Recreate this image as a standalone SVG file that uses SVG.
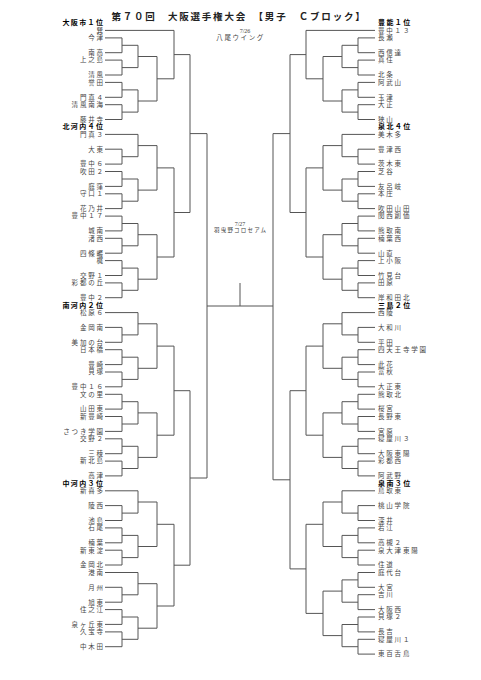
<svg xmlns="http://www.w3.org/2000/svg" width="481" height="680" viewBox="0 0 481 680">
<style>
text{font-family:"Noto Sans CJK JP","Noto Sans CJK SC",sans-serif}
.l{font-size:6.5px;letter-spacing:1.8px;fill:#444;text-anchor:end}
.r{font-size:6.5px;letter-spacing:1.8px;fill:#444;text-anchor:start}
.bl{font-size:7px;letter-spacing:1.4px;font-weight:bold;fill:#000;text-anchor:end}
.br{font-size:7px;letter-spacing:1.4px;font-weight:bold;fill:#000;text-anchor:start}
.t{font-size:9.5px;letter-spacing:1.8px;font-weight:bold;fill:#222;text-anchor:middle}
.c{fill:#444;text-anchor:middle}
.ln{fill:none;stroke:#555;stroke-width:1}
</style>
<rect width="481" height="680" fill="#fff"/>
<g id="title"><text class="t" x="239" y="19.5">第７０回　大阪選手権大会　【男子　Ｃブロック】</text></g>
<g id="venue1"><text class="c" x="245" y="33" style="font-size:6px;font-family:'Liberation Serif',serif">7/26</text><text class="c" x="240.6" y="40" style="font-size:6.5px;letter-spacing:1.6px">八尾ウイング</text></g>
<g id="venue2"><text class="c" x="240" y="225.5" style="font-size:6px;font-family:'Liberation Serif',serif">7/27</text><text class="c" x="240.6" y="232" style="font-size:5.5px;letter-spacing:1.2px">羽曳野コロセアム</text></g>

<g id="connectors" class="ln">
<path d="M105 30.4H174M105 134.4H138M105 312.6H138M105 490.8H138M105 572.5H138
M105 37.9H122V52.7H105M122 45.3H138
M105 60.1H122V75H105M122 67.6H138
M105 82.4H122V97.3H105M122 89.9H138
M105 104.7H122V119.5H105M122 112.1H138
M105 149.2H122V164.1H105M122 156.7H138
M105 171.5H122V186.4H105M122 179H138
M105 193.8H122V208.6H105M122 201.2H138
M105 216.1H122V230.9H105M122 223.5H138
M105 238.3H122V253.2H105M122 245.8H138
M105 260.6H122V275.5H105M122 268.1H138
M105 282.9H122V297.7H105M122 290.3H138
M105 327.4H122V342.3H105M122 334.9H138
M105 349.7H122V364.6H105M122 357.2H138
M105 372H122V386.8H105M122 379.4H138
M105 394.3H122V409.1H105M122 401.7H138
M105 416.5H122V431.4H105M122 424H138
M105 438.8H122V453.7H105M122 446.3H138
M105 461.1H122V475.9H105M122 468.5H138
M105 505.6H122V520.5H105M122 513.1H138
M105 527.9H122V542.8H105M122 535.4H138
M105 550.2H122V565H105M122 557.6H138
M105 587.3H122V602.2H105M122 594.8H138
M105 609.6H122V624.4H105M122 617H138
M105 631.9H122V646.7H105M122 639.3H138"/>
<path d="M138 45.3V67.6M138 56.5H157
M138 89.9V112.1M138 101H157
M138 134.4V156.7M138 145.6H157
M138 179V201.2M138 190.1H157
M138 223.5V245.8M138 234.7H157
M138 268.1V290.3M138 279.2H157
M138 312.6V334.9M138 323.8H157
M138 357.2V379.4M138 368.3H157
M138 401.7V424M138 412.9H157
M138 446.3V468.5M138 457.4H157
M138 490.8V513.1M138 502H157
M138 535.4V557.6M138 546.5H157
M138 572.5V594.8M138 583.7H157
M138 617V639.3M138 628.2H157"/>
<path d="M157 56.5V101M157 78.8H174
M157 145.6V190.1M157 167.9H174
M157 234.7V279.2M157 257H174
M157 323.8V368.3M157 346.1H174
M157 412.9V457.4M157 435.2H174
M157 502V546.5M157 524.3H174
M157 583.7V628.2M157 606H174"/>
<path d="M174 30.4V78.8M174 54.6H190
M174 167.9V257M174 212.5H190
M174 346.1V435.2M174 390.7H190
M174 524.3V606M174 565.2H190
M190 54.6V212.5M190 133.6H207
M190 390.7V565.2M190 478H207
M207 133.6V478M207 306H273M273 133.6V479.8M240 283V306"/>
<path d="M375 30.4H306M375 134.4H342M375 312.6H342M375 490.8H342
M375 37.9H358V52.7H375M358 45.3H342
M375 60.1H358V75H375M358 67.6H342
M375 82.4H358V97.3H375M358 89.9H342
M375 104.7H358V119.5H375M358 112.1H342
M375 149.2H358V164.1H375M358 156.7H342
M375 171.5H358V186.4H375M358 179H342
M375 193.8H358V208.6H375M358 201.2H342
M375 216.1H358V230.9H375M358 223.5H342
M375 238.3H358V253.2H375M358 245.8H342
M375 260.6H358V275.5H375M358 268.1H342
M375 282.9H358V297.7H375M358 290.3H342
M375 327.4H358V342.3H375M358 334.9H342
M375 349.7H358V364.6H375M358 357.2H342
M375 372H358V386.8H375M358 379.4H342
M375 394.3H358V409.1H375M358 401.7H342
M375 416.5H358V431.4H375M358 424H342
M375 438.8H358V453.7H375M358 446.3H342
M375 461.1H358V475.9H375M358 468.5H342
M375 505.6H358V520.5H375M358 513.1H342
M375 527.9H358V542.8H375M358 535.4H342
M375 550.2H358V565H375M358 557.6H342
M375 572.5H358V587.3H375M358 579.9H342
M375 594.7H358V609.6H375M358 602.2H342
M375 617H358V631.9H375M358 624.5H342
M375 639.3H358V654.1H375M358 646.7H342"/>
<path d="M342 45.3V67.6M342 56.5H323
M342 89.9V112.1M342 101H323
M342 134.4V156.7M342 145.6H323
M342 179V201.2M342 190.1H323
M342 223.5V245.8M342 234.7H323
M342 268.1V290.3M342 279.2H323
M342 312.6V334.9M342 323.8H323
M342 357.2V379.4M342 368.3H323
M342 401.7V424M342 412.9H323
M342 446.3V468.5M342 457.4H323
M342 490.8V513.1M342 502H323
M342 535.4V557.6M342 546.5H323
M342 579.9V602.2M342 591.1H323
M342 624.5V646.7M342 635.6H323"/>
<path d="M323 56.5V101M323 78.8H306
M323 145.6V190.1M323 167.9H306
M323 234.7V279.2M323 257H306
M323 323.8V368.3M323 346.1H306
M323 412.9V457.4M323 435.2H306
M323 502V546.5M323 524.3H306
M323 591.1V635.6M323 613.4H306"/>
<path d="M306 30.4V78.8M306 54.6H290
M306 167.9V257M306 212.5H290
M306 346.1V435.2M306 390.7H290
M306 524.3V613.4M306 568.9H290
M290 54.6V212.5M290 133.6H273
M290 390.7V568.9M290 479.8H273"/>
</g>

<g id="left">
<g id="seed-osakashi"><text class="bl" x="104.4" y="25.3">大阪市１位</text></g>
<g id="L01"><text class="l" x="104.8" y="32.7">巽</text></g>
<g id="L02"><text class="l" x="104.8" y="40.2">今津</text></g>
<g id="L03"><text class="l" x="104.8" y="55">南高</text></g>
<g id="L04"><text class="l" x="104.8" y="62.4">上之島</text></g>
<g id="L05"><text class="l" x="104.8" y="77.3">清風</text></g>
<g id="L06"><text class="l" x="104.8" y="84.7">誉田</text></g>
<g id="L07"><text class="l" x="104.8" y="99.6">門真４</text></g>
<g id="L08"><text class="l" x="104.8" y="107">清風南海</text></g>
<g id="L09"><text class="l" x="104.8" y="121.8">藤井寺</text></g>
<g id="seed-kitakawachi"><text class="bl" x="104.4" y="129.3">北河内４位</text></g>
<g id="L10"><text class="l" x="104.8" y="136.7">門真３</text></g>
<g id="L11"><text class="l" x="104.8" y="151.5">大東</text></g>
<g id="L12"><text class="l" x="104.8" y="166.4">豊中６</text></g>
<g id="L13"><text class="l" x="104.8" y="173.8">吹田２</text></g>
<g id="L14"><text class="l" x="104.8" y="188.7">庭窪</text></g>
<g id="L15"><text class="l" x="104.8" y="196.1">守口１</text></g>
<g id="L16"><text class="l" x="104.8" y="210.9">花乃井</text></g>
<g id="L17"><text class="l" x="104.8" y="218.4">豊中１７</text></g>
<g id="L18"><text class="l" x="104.8" y="233.2">城南</text></g>
<g id="L19"><text class="l" x="104.8" y="240.6">渚西</text></g>
<g id="L20"><text class="l" x="104.8" y="255.5">四條畷</text></g>
<g id="L21"><text class="l" x="104.8" y="262.9">梶</text></g>
<g id="L22"><text class="l" x="104.8" y="277.8">交野１</text></g>
<g id="L23"><text class="l" x="104.8" y="285.2">彩都の丘</text></g>
<g id="L24"><text class="l" x="104.8" y="300">豊中２</text></g>
<g id="seed-minamikawachi"><text class="bl" x="104.4" y="307.5">南河内２位</text></g>
<g id="L25"><text class="l" x="104.8" y="314.9">松原６</text></g>
<g id="L26"><text class="l" x="104.8" y="329.7">金岡南</text></g>
<g id="L27"><text class="l" x="104.8" y="344.6">美加の台</text></g>
<g id="L28"><text class="l" x="104.8" y="352">日本橋</text></g>
<g id="L29"><text class="l" x="104.8" y="366.9">豊崎</text></g>
<g id="L30"><text class="l" x="104.8" y="374.3">貝塚</text></g>
<g id="L31"><text class="l" x="104.8" y="389.1">豊中１６</text></g>
<g id="L32"><text class="l" x="104.8" y="396.6">文の里</text></g>
<g id="L33"><text class="l" x="104.8" y="411.4">山田東</text></g>
<g id="L34"><text class="l" x="104.8" y="418.8">新豊崎</text></g>
<g id="L35"><text class="l" x="104.8" y="433.7">さつき学園</text></g>
<g id="L36"><text class="l" x="104.8" y="441.1">交野２</text></g>
<g id="L37"><text class="l" x="104.8" y="456">三稜</text></g>
<g id="L38"><text class="l" x="104.8" y="463.4">新北島</text></g>
<g id="L39"><text class="l" x="104.8" y="478.2">高津</text></g>
<g id="seed-nakakawachi"><text class="bl" x="104.4" y="485.7">中河内３位</text></g>
<g id="L40"><text class="l" x="104.8" y="493.1">新喜多</text></g>
<g id="L41"><text class="l" x="104.8" y="507.9">陵西</text></g>
<g id="L42"><text class="l" x="104.8" y="522.8">池島</text></g>
<g id="L43"><text class="l" x="104.8" y="530.2">石尾</text></g>
<g id="L44"><text class="l" x="104.8" y="545.1">楠葉</text></g>
<g id="L45"><text class="l" x="104.8" y="552.5">新東淀</text></g>
<g id="L46"><text class="l" x="104.8" y="567.3">金岡北</text></g>
<g id="L47"><text class="l" x="104.8" y="574.8">港南</text></g>
<g id="L48"><text class="l" x="104.8" y="589.6">月州</text></g>
<g id="L49"><text class="l" x="104.8" y="604.5">旭東</text></g>
<g id="L50"><text class="l" x="104.8" y="611.9">住之江</text></g>
<g id="L51"><text class="l" x="104.8" y="626.7">泉ヶ丘東</text></g>
<g id="L52"><text class="l" x="104.8" y="634.2">久宝寺</text></g>
<g id="L53"><text class="l" x="104.8" y="649">中木田</text></g>
</g>

<g id="right">
<g id="seed-toyono"><text class="br" x="378" y="25.3">豊能１位</text></g>
<g id="R01"><text class="r" x="378" y="32.7">豊中１３</text></g>
<g id="R02"><text class="r" x="378" y="40.2">長瀬</text></g>
<g id="R03"><text class="r" x="378" y="55">西信達</text></g>
<g id="R04"><text class="r" x="378" y="62.4">真住</text></g>
<g id="R05"><text class="r" x="378" y="77.3">北条</text></g>
<g id="R06"><text class="r" x="378" y="84.7">阿武山</text></g>
<g id="R07"><text class="r" x="378" y="99.6">玉津</text></g>
<g id="R08"><text class="r" x="378" y="107">大正</text></g>
<g id="R09"><text class="r" x="378" y="121.8">狭山</text></g>
<g id="seed-senboku"><text class="br" x="378" y="129.3">泉北４位</text></g>
<g id="R10"><text class="r" x="378" y="136.7">美木多</text></g>
<g id="R11"><text class="r" x="378" y="151.5">豊津西</text></g>
<g id="R12"><text class="r" x="378" y="166.4">茨木東</text></g>
<g id="R13"><text class="r" x="378" y="173.8">芝谷</text></g>
<g id="R14"><text class="r" x="378" y="188.7">友呂岐</text></g>
<g id="R15"><text class="r" x="378" y="196.1">本庄</text></g>
<g id="R16"><text class="r" x="378" y="210.9">吹田山田</text></g>
<g id="R17"><text class="r" x="378" y="218.4">関西創価</text></g>
<g id="R18"><text class="r" x="378" y="233.2">熊取南</text></g>
<g id="R19"><text class="r" x="378" y="240.6">楠葉西</text></g>
<g id="R20"><text class="r" x="378" y="255.5">山直</text></g>
<g id="R21"><text class="r" x="378" y="262.9">上小阪</text></g>
<g id="R22"><text class="r" x="378" y="277.8">竹見台</text></g>
<g id="R23"><text class="r" x="378" y="285.2">田原</text></g>
<g id="R24"><text class="r" x="378" y="300">岸和田北</text></g>
<g id="seed-mishima"><text class="br" x="378" y="307.5">三島２位</text></g>
<g id="R25"><text class="r" x="378" y="314.9">西陵</text></g>
<g id="R26"><text class="r" x="378" y="329.7">大和川</text></g>
<g id="R27"><text class="r" x="378" y="344.6">平田</text></g>
<g id="R28"><text class="r" x="378" y="352">四天王寺学園</text></g>
<g id="R29"><text class="r" x="378" y="366.9">此花</text></g>
<g id="R30"><text class="r" x="378" y="374.3">富秋</text></g>
<g id="R31"><text class="r" x="378" y="389.1">大正東</text></g>
<g id="R32"><text class="r" x="378" y="396.6">熊取北</text></g>
<g id="R33"><text class="r" x="378" y="411.4">桜宮</text></g>
<g id="R34"><text class="r" x="378" y="418.8">長野東</text></g>
<g id="R35"><text class="r" x="378" y="433.7">宮原</text></g>
<g id="R36"><text class="r" x="378" y="441.1">寝屋川３</text></g>
<g id="R37"><text class="r" x="378" y="456">大阪東陽</text></g>
<g id="R38"><text class="r" x="378" y="463.4">彩都西</text></g>
<g id="R39"><text class="r" x="378" y="478.2">阿武野</text></g>
<g id="seed-sennan"><text class="br" x="378" y="485.7">泉南３位</text></g>
<g id="R40"><text class="r" x="378" y="493.1">鳥取東</text></g>
<g id="R41"><text class="r" x="378" y="507.9">桃山学院</text></g>
<g id="R42"><text class="r" x="378" y="522.8">深井</text></g>
<g id="R43"><text class="r" x="378" y="530.2">若江</text></g>
<g id="R44"><text class="r" x="378" y="545.1">高槻２</text></g>
<g id="R45"><text class="r" x="378" y="552.5">泉大津東陽</text></g>
<g id="R46"><text class="r" x="378" y="567.3">住道</text></g>
<g id="R47"><text class="r" x="378" y="574.8">庭代台</text></g>
<g id="R48"><text class="r" x="378" y="589.6">大宮</text></g>
<g id="R49"><text class="r" x="378" y="597">吉川</text></g>
<g id="R50"><text class="r" x="378" y="611.9">大阪西</text></g>
<g id="R51"><text class="r" x="378" y="619.3">貝塚２</text></g>
<g id="R52"><text class="r" x="378" y="634.2">長吉</text></g>
<g id="R53"><text class="r" x="378" y="641.6">寝屋川１</text></g>
<g id="R54"><text class="r" x="378" y="656.4">東百舌鳥</text></g>
</g>
</svg>
